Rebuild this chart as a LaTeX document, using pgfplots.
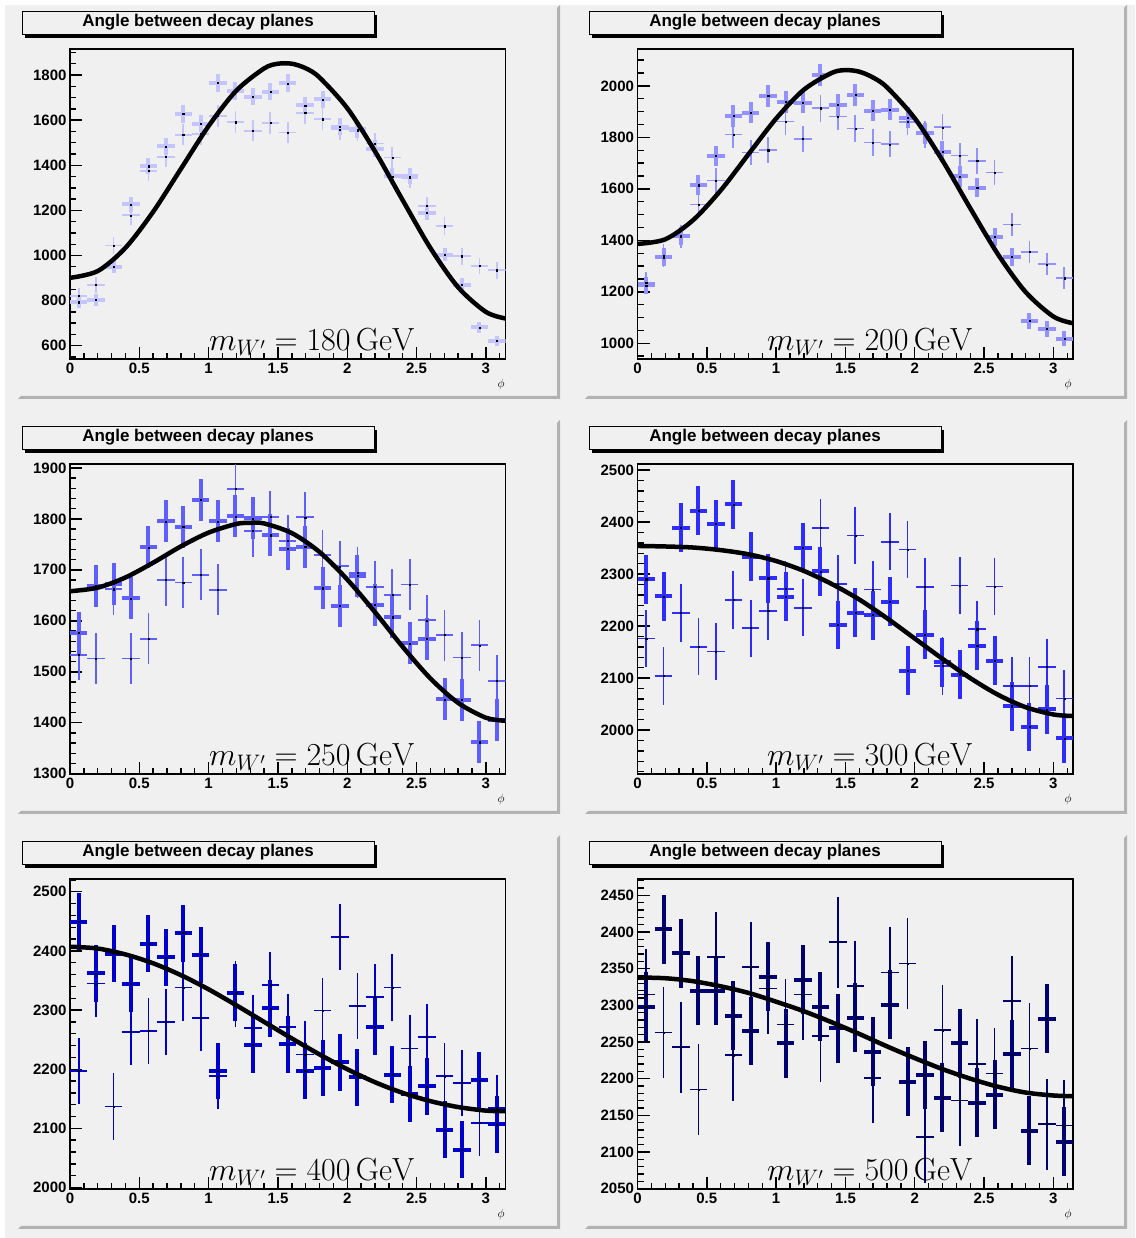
\RequirePackage{fix-cm}
\documentclass[border=0pt]{standalone}
\usepackage[no-math]{fontspec}
\setmainfont{Liberation Sans}
\usepackage{pgfplots}
\usepackage{pgfplotstable}
\pgfplotsset{compat=1.18}

\definecolor{padgray}{RGB}{240,240,240}
\definecolor{bevel}{RGB}{178,178,178}
\definecolor{cA}{RGB}{196,196,255}
\definecolor{cB}{RGB}{145,145,255}
\definecolor{cC}{RGB}{95,95,255}
\definecolor{cD}{RGB}{45,45,255}
\definecolor{cE}{RGB}{0,0,205}
\definecolor{cF}{RGB}{0,0,115}

% columns: phi, thin value, thin error, thick value, thick error
\pgfplotstableread{
x a ea b eb
0.0628 822 34 793 27
0.1885 870 35 803 27
0.3142 1044 39 951 29
0.4398 1178 41 1227 33
0.5655 1375 44 1396 36
0.6912 1437 45 1484 37
0.8168 1535 47 1627 38
0.9425 1538 47 1585 38
1.0681 1618 48 1766 40
1.1938 1591 48 1730 40
1.3195 1553 47 1704 39
1.4451 1587 48 1726 39
1.5708 1545 47 1763 40
1.6965 1633 48 1665 39
1.8221 1604 48 1692 39
1.9478 1559 47 1570 38
2.0735 1553 47 1559 38
2.1991 1496 46 1474 36
2.3248 1434 45 1351 35
2.4504 1345 44 1351 35
2.5761 1219 42 1190 33
2.7018 1130 40 1004 30
2.8274 997 38 871 28
2.9531 953 37 681 25
3.0788 935 37 621 24
}\tabA

\pgfplotstableread{
x a ea b eb
0.0628 1235 42 1225 33
0.1885 1340 44 1334 35
0.3142 1414 45 1417 36
0.4398 1539 47 1614 38
0.5655 1632 48 1729 39
0.6912 1811 51 1883 41
0.8168 1741 50 1896 41
0.9425 1750 50 1961 42
1.0681 1861 52 1938 42
1.1938 1794 51 1935 42
1.3195 1913 52 2041 43
1.4451 1881 52 1926 42
1.5708 1834 51 1965 42
1.6965 1780 51 1903 41
1.8221 1773 51 1907 41
1.9478 1860 52 1877 41
2.0735 1811 51 1816 40
2.1991 1839 51 1744 40
2.3248 1729 50 1648 39
2.4504 1709 50 1605 38
2.5761 1663 49 1413 36
2.7018 1462 46 1337 35
2.8274 1355 44 1087 31
2.9531 1307 43 1057 31
3.0788 1253 42 1018 30
}\tabB

\pgfplotstableread{
x a ea b eb
0.0628 1533 50 1576 41
0.1885 1526 50 1669 41
0.3142 1662 50 1672 41
0.4398 1526 50 1644 41
0.5655 1565 50 1744 41
0.6912 1680 50 1795 41
0.8168 1675 50 1784 41
0.9425 1690 50 1837 41
1.0681 1661 50 1795 41
1.1938 1859 50 1805 41
1.3195 1776 50 1801 41
1.4451 1804 50 1768 41
1.5708 1757 50 1741 41
1.6965 1803 50 1745 41
1.8221 1729 50 1664 41
1.9478 1707 50 1629 41
2.0735 1694 50 1688 41
2.1991 1667 50 1631 41
2.3248 1651 50 1607 41
2.4504 1671 50 1556 41
2.5761 1601 50 1565 41
2.7018 1572 50 1446 41
2.8274 1528 50 1445 41
2.9531 1552 50 1362 41
3.0788 1482 50 1405 41
}\tabC

\pgfplotstableread{
x a ea b eb
0.0628 2176 55 2290 47
0.1885 2104 55 2257 47
0.3142 2225 55 2389 47
0.4398 2160 55 2422 47
0.5655 2151 55 2396 47
0.6912 2250 55 2434 47
0.8168 2196 55 2333 47
0.9425 2229 55 2292 47
1.0681 2271 55 2256 47
1.1938 2235 55 2351 47
1.3195 2389 55 2305 47
1.4451 2281 55 2202 47
1.5708 2374 55 2226 47
1.6965 2270 55 2221 47
1.8221 2362 55 2247 47
1.9478 2347 55 2114 47
2.0735 2275 55 2183 47
2.1991 2123 55 2130 47
2.3248 2278 55 2106 47
2.4504 2194 55 2162 47
2.5761 2276 55 2133 47
2.7018 2085 55 2046 47
2.8274 2085 55 2006 47
2.9531 2121 55 2040 47
3.0788 2061 55 1984 47
}\tabD

\pgfplotstableread{
x a ea b eb
0.0628 2197 56 2449 48
0.1885 2345 56 2362 48
0.3142 2137 56 2395 48
0.4398 2263 56 2344 48
0.5655 2265 56 2412 48
0.6912 2280 56 2389 48
0.8168 2338 56 2430 48
0.9425 2287 56 2393 48
1.0681 2188 56 2197 48
1.1938 2327 56 2329 48
1.3195 2270 56 2241 48
1.4451 2342 56 2303 48
1.5708 2271 56 2242 48
1.6965 2225 56 2197 48
1.8221 2299 56 2202 48
1.9478 2424 56 2212 48
2.0735 2307 56 2186 48
2.1991 2322 56 2272 48
2.3248 2338 56 2191 48
2.4504 2235 56 2158 48
2.5761 2255 56 2171 48
2.7018 2188 56 2098 48
2.8274 2177 56 2064 48
2.9531 2109 56 2181 48
3.0788 2135 56 2107 48
}\tabE

\pgfplotstableread{
x a ea b eb
0.0628 2315 62 2298 47
0.1885 2263 62 2404 47
0.3142 2243 62 2371 47
0.4398 2185 62 2320 47
0.5655 2366 62 2320 47
0.6912 2232 62 2286 47
0.8168 2352 62 2265 47
0.9425 2323 62 2339 47
1.0681 2274 62 2248 47
1.1938 2315 62 2335 47
1.3195 2258 62 2298 47
1.4451 2386 62 2269 47
1.5708 2326 62 2283 47
1.6965 2201 62 2237 47
1.8221 2345 62 2301 47
1.9478 2357 62 2196 47
2.0735 2120 62 2205 47
2.1991 2266 62 2174 47
2.3248 2170 62 2248 47
2.4504 2220 62 2167 47
2.5761 2207 62 2178 47
2.7018 2306 62 2233 47
2.8274 2241 62 2129 47
2.9531 2138 62 2282 47
3.0788 2136 62 2114 47
}\tabF

\pgfplotsset{
  decayaxis/.style={
    scale only axis, width=435.5pt, height=310pt, anchor=south west,
    xmin=0, xmax=3.14159,
    axis background/.style={fill=padgray},
    axis line style={line width=1.8pt},
    xtick pos=bottom, ytick pos=left, tick align=inside,
    major tick length=12pt, minor tick length=6pt,
    every major tick/.append style={line width=1.4pt, black},
    every minor tick/.append style={line width=1.4pt, black},
    xtick={0,0.5,1,1.5,2,2.5,3}, xticklabels={0,0.5,1,1.5,2,2.5,3},
    minor xtick={0.1,0.2,0.3,0.4,0.6,0.7,0.8,0.9,1.1,1.2,1.3,1.4,1.6,1.7,1.8,1.9,2.1,2.2,2.3,2.4,2.6,2.7,2.8,2.9,3.1},
    ticklabel style={font=\fontsize{15}{15}\selectfont\bfseries},
    /pgf/number format/assume math mode=true,
    /pgf/number format/1000 sep={},
    scaled y ticks=false,
    clip=true,
  },
  % error crosses only: bin width horizontally, statistical error vertically
  binbars/.style 2 args={draw=none, mark=none, forget plot,
    error bars/x dir=both, error bars/x fixed=0.0628,
    error bars/y dir=both, error bars/y explicit,
    error bars/error mark=none,
    error bars/error bar style={line width=#2, draw=#1, solid}},
  thinbars/.style={binbars={#1}{1.7pt}},
  thickbars/.style={binbars={#1}{4pt}},
  bindots/.style={only marks, mark=square*, mark size=0.55pt, black, forget plot},
  fitline/.style={black, line width=4.5pt, smooth, mark=none, line join=round},
}

% one pad: grey field, bevelled edge, title box with shadow
\newcommand{\pad}[2]{%
  \fill[padgray] (#1,#2) rectangle ({#1+542},{#2+394});
  \fill[bevel] (#1,#2) -- ({#1+542},#2) -- ({#1+542},{#2+394}) -- ({#1+539},{#2+391})
     -- ({#1+539},{#2+3}) -- ({#1+3},{#2+3}) -- cycle;
  \fill[black] ({#1+7},{#2+361}) rectangle ({#1+359},{#2+384});
  \filldraw[fill=padgray, draw=black, line width=1pt] ({#1+4},{#2+364}) rectangle ({#1+356},{#2+387});
  \node[anchor=base, inner sep=0pt, font=\fontsize{17}{17}\selectfont\bfseries]
     at ({#1+180},{#2+372}) {Angle between decay planes};
  \node[anchor=center, inner sep=0pt, font=\fontsize{12}{12}\selectfont]
     at ({#1+483},{#2+14}) {$\phi$};
}
\newcommand{\masslabel}[3]{%
  \node[anchor=base, inner sep=0pt, font=\fontsize{32}{32}\selectfont]
     at (#1,#2) {$m_{W'} = #3\,\mathrm{GeV}$};
}
% both histograms of one panel with their centre dots
\newcommand{\bins}[2]{%
  \addplot[thinbars=#2] table[x index=0, y index=1, y error index=2] {#1};
  \addplot[thickbars=#2] table[x index=0, y index=3, y error index=4] {#1};
  \addplot[bindots] table[x index=0, y index=1] {#1};
  \addplot[bindots] table[x index=0, y index=3] {#1};
}

\begin{document}
\begin{tikzpicture}[x=1pt, y=1pt]
\fill[white] (0,0) rectangle (1135,1238);
\fill[padgray] (5,0) rectangle (1135,1233);

\pad{18}{839}
\pad{585}{839}
\pad{18}{424}
\pad{585}{424}
\pad{18}{9}
\pad{585}{9}

% ---- 180 GeV ----
\begin{axis}[decayaxis, at={(70pt,878.7pt)}, ymin=540, ymax=1914,
  ytick={600,800,...,1800}, minor ytick={550,600,...,1900}]
\bins{\tabA}{cA}
\addplot[fitline] coordinates {(0,901) (0.2,931) (0.4,1034) (0.6,1194) (0.8,1384)
  (1.0,1574) (1.2,1731) (1.4,1829) (1.5,1850) (1.6,1850) (1.7,1830) (1.8,1789)
  (2.0,1653) (2.2,1462) (2.4,1245) (2.6,1033) (2.8,859) (3.0,750) (3.1416,721)};
\end{axis}

% ---- 200 GeV ----
\begin{axis}[decayaxis, at={(637.5pt,878.7pt)}, ymin=938, ymax=2142,
  ytick={1000,1200,...,2000}, minor ytick={950,1000,...,2100}]
\bins{\tabB}{cB}
\addplot[fitline] coordinates {(0,1386) (0.2,1404) (0.4,1478) (0.6,1594) (0.8,1734)
  (1.0,1873) (1.2,1985) (1.4,2050) (1.5,2061) (1.6,2055) (1.7,2032) (1.8,1994)
  (2.0,1874) (2.2,1710) (2.4,1525) (2.6,1346) (2.8,1199) (3.0,1104) (3.1416,1078)};
\end{axis}

% ---- 250 GeV ----
\begin{axis}[decayaxis, at={(70pt,463.7pt)}, ymin=1299, ymax=1907,
  ytick={1300,1400,...,1900}, minor ytick={1300,1320,...,1900}]
\bins{\tabC}{cC}
\addplot[fitline] coordinates {(0,1658) (0.2,1665) (0.4,1685) (0.6,1714) (0.8,1746)
  (1.0,1773) (1.2,1790) (1.3,1792) (1.4,1791) (1.6,1772) (1.8,1735) (2.0,1681)
  (2.2,1617) (2.4,1549) (2.6,1487) (2.8,1439) (3.0,1410) (3.1416,1404)};
\end{axis}

% ---- 300 GeV ----
\begin{axis}[decayaxis, at={(637.5pt,463.7pt)}, ymin=1915, ymax=2511,
  ytick={2000,2100,...,2500}, minor ytick={1920,1940,...,2500}]
\bins{\tabD}{cD}
\addplot[fitline] coordinates {(0,2354) (0.2,2353) (0.4,2351) (0.6,2346) (0.8,2338)
  (1.0,2325) (1.2,2306) (1.4,2281) (1.6,2251) (1.8,2215) (2.0,2176) (2.2,2137)
  (2.4,2100) (2.6,2068) (2.8,2044) (3.0,2030) (3.1416,2027)};
\end{axis}

% ---- 400 GeV ----
\begin{axis}[decayaxis, at={(70pt,48.7pt)}, ymin=1997, ymax=2521,
  ytick={2000,2100,...,2500}, minor ytick={2000,2020,...,2520}]
\bins{\tabE}{cE}
\addplot[fitline] coordinates {(0,2407) (0.2,2404) (0.4,2394) (0.6,2379) (0.8,2359)
  (1.0,2335) (1.2,2308) (1.4,2280) (1.6,2252) (1.8,2225) (2.0,2200) (2.2,2178)
  (2.4,2160) (2.6,2146) (2.8,2136) (3.0,2130) (3.1416,2129)};
\end{axis}

% ---- 500 GeV ----
\begin{axis}[decayaxis, at={(637.5pt,48.7pt)}, ymin=2049, ymax=2472,
  ytick={2050,2100,...,2450}, minor ytick={2050,2060,...,2470}]
\bins{\tabF}{cF}
\addplot[fitline] coordinates {(0,2338) (0.2,2337) (0.4,2333) (0.6,2326) (0.8,2317)
  (1.0,2305) (1.2,2292) (1.4,2277) (1.6,2261) (1.8,2244) (2.0,2228) (2.2,2213)
  (2.4,2200) (2.6,2189) (2.8,2181) (3.0,2177) (3.1416,2176)};
\end{axis}

\masslabel{312}{887.3}{180}
\masslabel{870}{887.3}{200}
\masslabel{312}{472.3}{250}
\masslabel{870}{472.3}{300}
\masslabel{312}{57.3}{400}
\masslabel{870}{57.3}{500}

\pgfresetboundingbox
\useasboundingbox (0,0) rectangle (1135,1238);
\end{tikzpicture}
\end{document}
